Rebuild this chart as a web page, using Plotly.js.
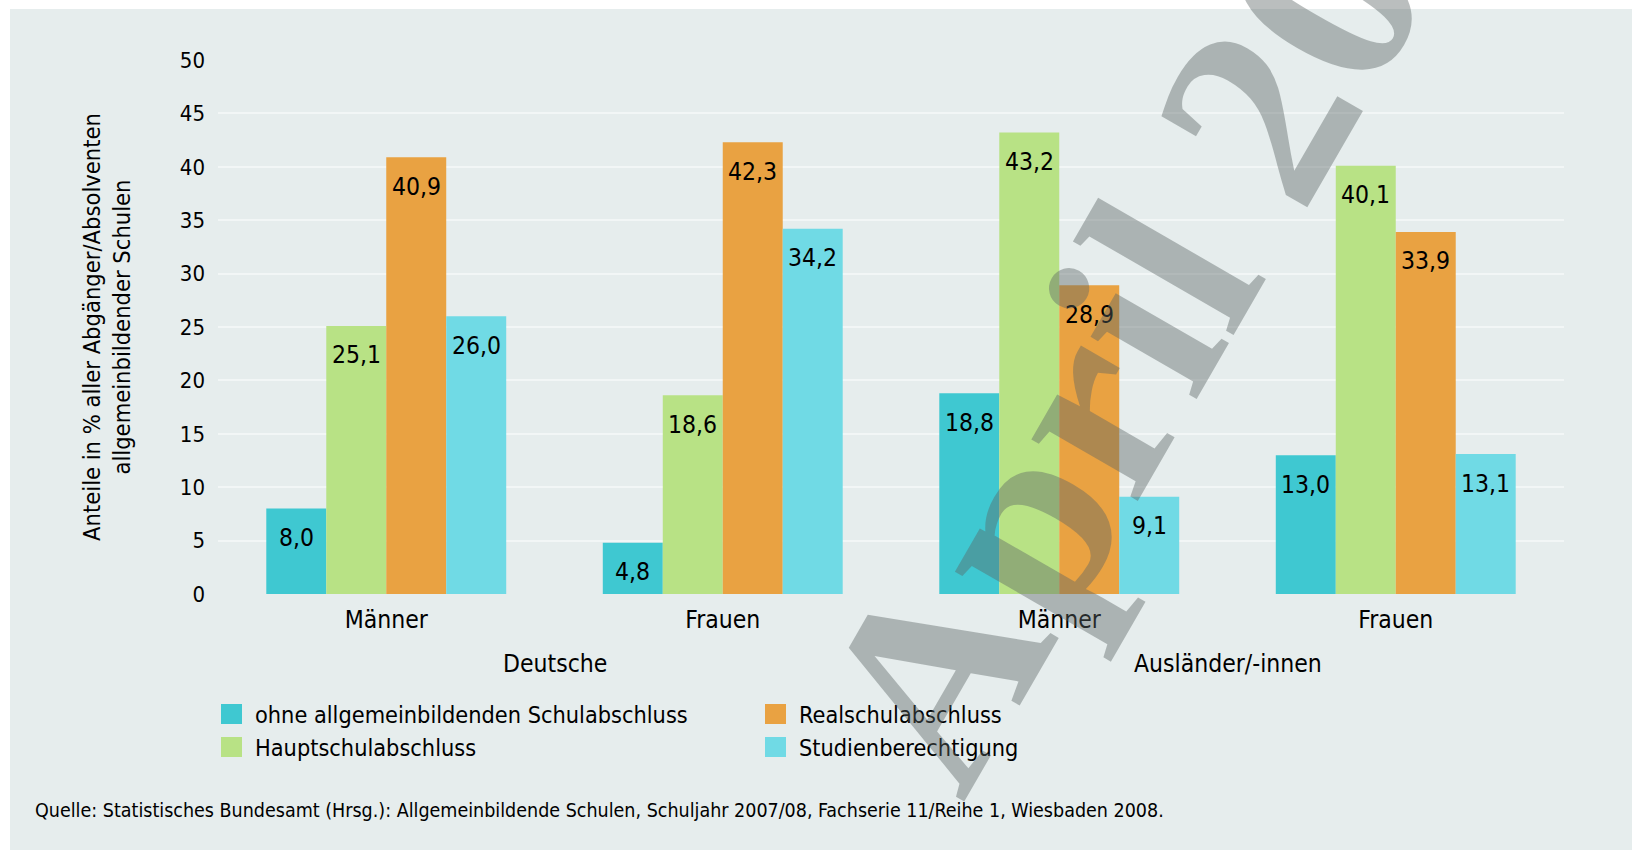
<!DOCTYPE html>
<html>
<head>
<meta charset="utf-8">
<script src="https://cdn.plot.ly/plotly-3.0.1.min.js"></script>
<style>html,body{margin:0;padding:0;background:#fff;}#chart{width:1632px;height:850px;}</style>
</head>
<body>
<div id="chart"></div>
<script>
// ---- data ----
const categories = ['Männer', 'Frauen', 'Männer', 'Frauen'];
const groupLabels = ['Deutsche', 'Ausländer/-innen'];
const seriesNames = ['ohne allgemeinbildenden Schulabschluss', 'Hauptschulabschluss', 'Realschulabschluss', 'Studienberechtigung'];
const ohneAbschluss = [8.0, 4.8, 18.8, 13.0];
const hauptschule = [25.1, 18.6, 43.2, 40.1];
const realschule = [40.9, 42.3, 28.9, 33.9];
const studienberechtigung = [26.0, 34.2, 9.1, 13.1];
const yTickValues = [0, 5, 10, 15, 20, 25, 30, 35, 40, 45, 50];
const yTitle = 'Anteile in % aller Abgänger/Absolventen<br>allgemeinbildender Schulen';
const sourceText = 'Quelle: Statistisches Bundesamt (Hrsg.): Allgemeinbildende Schulen, Schuljahr 2007/08, Fachserie 11/Reihe 1, Wiesbaden 2008.';
const watermarkText = 'April 2009';

// ---- styles ----
const colors = ['#3fc8d1', '#b8e285', '#e9a242', '#70dae5'];
const FONT = 'DejaVu Sans Condensed, Liberation Sans Narrow, sans-serif';
const TXT = '#000';
const W = 1632, H = 850;
const M = {l: 218, r: 68, t: 60, b: 256};
const PW = W - M.l - M.r, PH = H - M.t - M.b;
const px2x = p => (p - M.l) / PW;
const px2y = p => (H - M.b - p) / PH;
const BARGAP = 0.287;
const barW = (1 - BARGAP) / 4;

const series = [ohneAbschluss, hauptschule, realschule, studienberechtigung];
const xIdx = categories.map((c, i) => i);

const traces = series.map((vals, s) => ({
  type: 'bar',
  name: seriesNames[s],
  x: xIdx,
  y: vals,
  marker: {color: colors[s], line: {width: 0}},
  hoverinfo: 'none',
  showlegend: false
}));

const annotations = [];
// value labels
series.forEach((vals, s) => {
  vals.forEach((v, i) => {
    annotations.push({
      x: i + (s - 1.5) * barW, y: v, xref: 'x', yref: 'y',
      text: v.toFixed(1).replace('.', ','),
      showarrow: false, xanchor: 'center', yanchor: 'middle', yshift: -29,
      font: {family: FONT, size: 24.5, color: TXT}
    });
  });
});
// group labels
groupLabels.forEach((g, k) => {
  annotations.push({
    x: 2 * k + 0.5, y: 0, xref: 'x', yref: 'paper', text: g,
    showarrow: false, xanchor: 'center', yanchor: 'middle', yshift: -69,
    font: {family: FONT, size: 24.5, color: TXT}
  });
});
// custom legend
const legendOrder = [0, 2, 1, 3];
const legendCols = [221, 765];
const legendRows = [714, 747];
const shapes = [
  {type: 'rect', xref: 'paper', yref: 'paper', x0: px2x(10), x1: px2x(W + 5), y0: px2y(9), y1: px2y(H + 5),
   fillcolor: '#e6eded', line: {width: 0}, layer: 'below'}
];
legendOrder.forEach((s, k) => {
  const cx = legendCols[k % 2], cy = legendRows[Math.floor(k / 2)];
  shapes.push({type: 'rect', xref: 'paper', yref: 'paper',
    x0: px2x(cx), x1: px2x(cx + 21), y0: px2y(cy - 10), y1: px2y(cy + 10),
    fillcolor: colors[s], line: {width: 0}});
  annotations.push({x: px2x(cx + 32), y: px2y(cy), xref: 'paper', yref: 'paper',
    text: seriesNames[s], showarrow: false, xanchor: 'left', yanchor: 'middle',
    font: {family: FONT, size: 23.3, color: TXT}});
});
// source
annotations.push({x: px2x(33), y: px2y(810), xref: 'paper', yref: 'paper', text: sourceText,
  showarrow: false, xanchor: 'left', yanchor: 'middle', font: {family: FONT, size: 19.5, color: TXT}});
// watermark
annotations.push({x: px2x(1188), y: px2y(234), xref: 'paper', yref: 'paper', text: '<b>' + watermarkText + '</b>',
  showarrow: false, xanchor: 'center', yanchor: 'middle', textangle: -60,
  font: {family: 'Liberation Serif, DejaVu Serif, serif', size: 268, color: 'rgba(90,100,100,0.42)'}});

const layout = {
  width: W, height: H,
  margin: M,
  paper_bgcolor: '#ffffff',
  plot_bgcolor: '#dbe4e4',
  barmode: 'group',
  bargap: BARGAP,
  bargroupgap: 0,
  showlegend: false,
  font: {family: FONT, size: 24, color: TXT},
  xaxis: {
    range: [-0.5, 3.5], tickmode: 'array', tickvals: xIdx, ticktext: categories,
    showgrid: false, zeroline: false, showline: false, ticks: '', fixedrange: true,
    tickfont: {family: FONT, size: 24.5, color: TXT}, ticklabelstandoff: 8
  },
  yaxis: {
    range: [0, 50], tickmode: 'array', tickvals: yTickValues,
    showgrid: true, gridcolor: '#f2f6f6', gridwidth: 2, zeroline: false, showline: false,
    ticks: '', fixedrange: true, ticklabelstandoff: 12,
    tickfont: {family: FONT, size: 22, color: TXT},
    title: {text: yTitle, font: {family: FONT, size: 23.5, color: TXT}, standoff: 42}
  },
  shapes: shapes,
  annotations: annotations
};

Plotly.newPlot('chart', traces, layout, {displayModeBar: false, staticPlot: true});
</script>
</body>
</html>
